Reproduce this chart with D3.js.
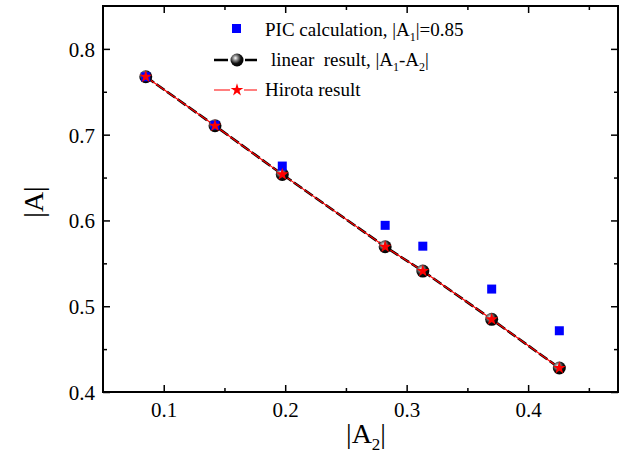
<!DOCTYPE html>
<html><head><meta charset="utf-8">
<script src="https://cdn.jsdelivr.net/npm/d3@7"></script>
<style>
html,body{margin:0;padding:0;background:#fff;}
svg text{font-family:"Liberation Serif","Times New Roman",serif !important;fill:#000;}
</style></head>
<body>
<svg id="chart" width="625" height="453"></svg>
<script>
// ---- data ----
const a2Values = [0.0852, 0.1422, 0.1976, 0.2823, 0.3133, 0.3700, 0.4257];
const picValues = [0.7675, 0.7110, 0.6634, 0.5943, 0.5700, 0.5200, 0.4714];
const linearValues = [0.7675, 0.7104, 0.6537, 0.5693, 0.5410, 0.4847, 0.4280];
const hirotaValues = [0.7675, 0.7104, 0.6537, 0.5693, 0.5410, 0.4847, 0.4280];
const xTicks = [0.1, 0.2, 0.3, 0.4];
const yTicks = [0.4, 0.5, 0.6, 0.7, 0.8];
const xMinor = [0.15, 0.25, 0.35, 0.45];
const yMinor = [0.45, 0.55, 0.65, 0.75];

const svg = d3.select("#chart");
const L = 103, R = 618, T = 6, B = 392;
const x = d3.scaleLinear().domain([0.05, 0.474]).range([L, R]);
const y = d3.scaleLinear().domain([0.4, 0.85]).range([B, T]);

const defs = svg.append("defs");
const g = defs.append("radialGradient").attr("id","sphere").attr("cx","38%").attr("cy","35%").attr("r","65%");
g.append("stop").attr("offset","0%").attr("stop-color","#fff");
g.append("stop").attr("offset","25%").attr("stop-color","#999");
g.append("stop").attr("offset","65%").attr("stop-color","#111");
g.append("stop").attr("offset","100%").attr("stop-color","#000");

// axes (inward ticks), mirrored
function axis(gen, tr, vals, size, labels){
  const a = svg.append("g").attr("transform", tr)
    .call(gen.tickValues(vals).tickSize(size).tickPadding(8)
      .tickFormat(labels ? d3.format(".1f") : ""));
  a.attr("font-family","Liberation Serif").attr("font-size",21);
  a.select(".domain").remove();
  a.selectAll("line").attr("stroke","#000").attr("stroke-width",1.5);
  a.selectAll("text").style("font-size","21px");
  return a;
}
const bx = axis(d3.axisBottom(x), `translate(0,${B})`, xTicks, -7, true);
bx.selectAll("text").attr("dy","0").attr("y", 25);
axis(d3.axisBottom(x), `translate(0,${B})`, xMinor, -4, false);
axis(d3.axisTop(x), `translate(0,${T})`, xTicks, -7, false);
axis(d3.axisTop(x), `translate(0,${T})`, xMinor, -4, false);
const ly = axis(d3.axisLeft(y), `translate(${L},0)`, yTicks, -7, true);
ly.selectAll("text").attr("x", -8).attr("dy","0.35em");
axis(d3.axisLeft(y), `translate(${L},0)`, yMinor, -4, false);
axis(d3.axisRight(y), `translate(${R},0)`, yTicks, -7, false);
axis(d3.axisRight(y), `translate(${R},0)`, yMinor, -4, false);

svg.append("rect").attr("x",L).attr("y",T).attr("width",R-L).attr("height",B-T)
  .attr("fill","none").attr("stroke","#000").attr("stroke-width",2);

// lines
const line = d3.line().x(d=>x(d[0])).y(d=>y(d[1]));
const linPts = a2Values.map((v,i)=>[v, linearValues[i]]);
const hirPts = a2Values.map((v,i)=>[v, hirotaValues[i]]);
svg.append("path").attr("d", line(linPts)).attr("fill","none").attr("stroke","#000")
  .attr("stroke-width",2.6).attr("stroke-dasharray","10,3");
svg.append("path").attr("d", line(hirPts)).attr("fill","none").attr("stroke","#ff0000")
  .attr("stroke-width",1.2);

// markers
svg.selectAll(".lin").data(linPts).join("circle")
  .attr("cx",d=>x(d[0])).attr("cy",d=>y(d[1])).attr("r",6.5).attr("fill","url(#sphere)");
svg.selectAll(".pic").data(a2Values.map((v,i)=>[v,picValues[i]])).join("rect")
  .attr("x",d=>x(d[0])-4.5).attr("y",d=>y(d[1])-4.5).attr("width",9).attr("height",9).attr("fill","#0000ff");
const star = d3.symbol().type(d3.symbolStar).size(50);
svg.selectAll(".hir").data(hirPts).join("path")
  .attr("d", star).attr("transform",d=>`translate(${x(d[0])},${y(d[1])})`).attr("fill","#ff0000");

// legend
const lg = svg.append("g").style("font-size","19px");
lg.append("rect").attr("x",232).attr("y",24).attr("width",9).attr("height",9).attr("fill","#0000ff");
const t1 = lg.append("text").attr("x",265).attr("y",36);
t1.append("tspan").text("PIC calculation, |A");
t1.append("tspan").attr("dy",5).style("font-size","12px").text("1");
t1.append("tspan").attr("dy",-5).text("|=0.85");

lg.append("path").attr("d","M214,60H228M245,60H257").attr("stroke","#000").attr("stroke-width",2.6);
lg.append("circle").attr("cx",237).attr("cy",60).attr("r",6.5).attr("fill","url(#sphere)");
const t2 = lg.append("text").attr("x",271).attr("y",66).attr("xml:space","preserve");
t2.append("tspan").text("linear  result, |A");
t2.append("tspan").attr("dy",5).style("font-size","12px").text("1");
t2.append("tspan").attr("dy",-5).text("-A");
t2.append("tspan").attr("dy",5).style("font-size","12px").text("2");
t2.append("tspan").attr("dy",-5).text("|");

lg.append("path").attr("d","M214,90H230M244,90H257").attr("stroke","#ff0000").attr("stroke-width",1.2);
lg.append("path").attr("d",star).attr("transform","translate(237,90)").attr("fill","#ff0000");
lg.append("text").attr("x",265).attr("y",96).text("Hirota result");

// axis titles
const xt = svg.append("text").attr("x",366).attr("y",443).attr("text-anchor","middle").style("font-size","28px");
xt.append("tspan").text("|A");
xt.append("tspan").attr("dy",7).style("font-size","17px").text("2");
xt.append("tspan").attr("dy",-7).text("|");
svg.append("text").attr("transform","translate(43,202) rotate(-90)").attr("text-anchor","middle")
  .style("font-size","28px").text("|A|");
</script>
</body></html>
